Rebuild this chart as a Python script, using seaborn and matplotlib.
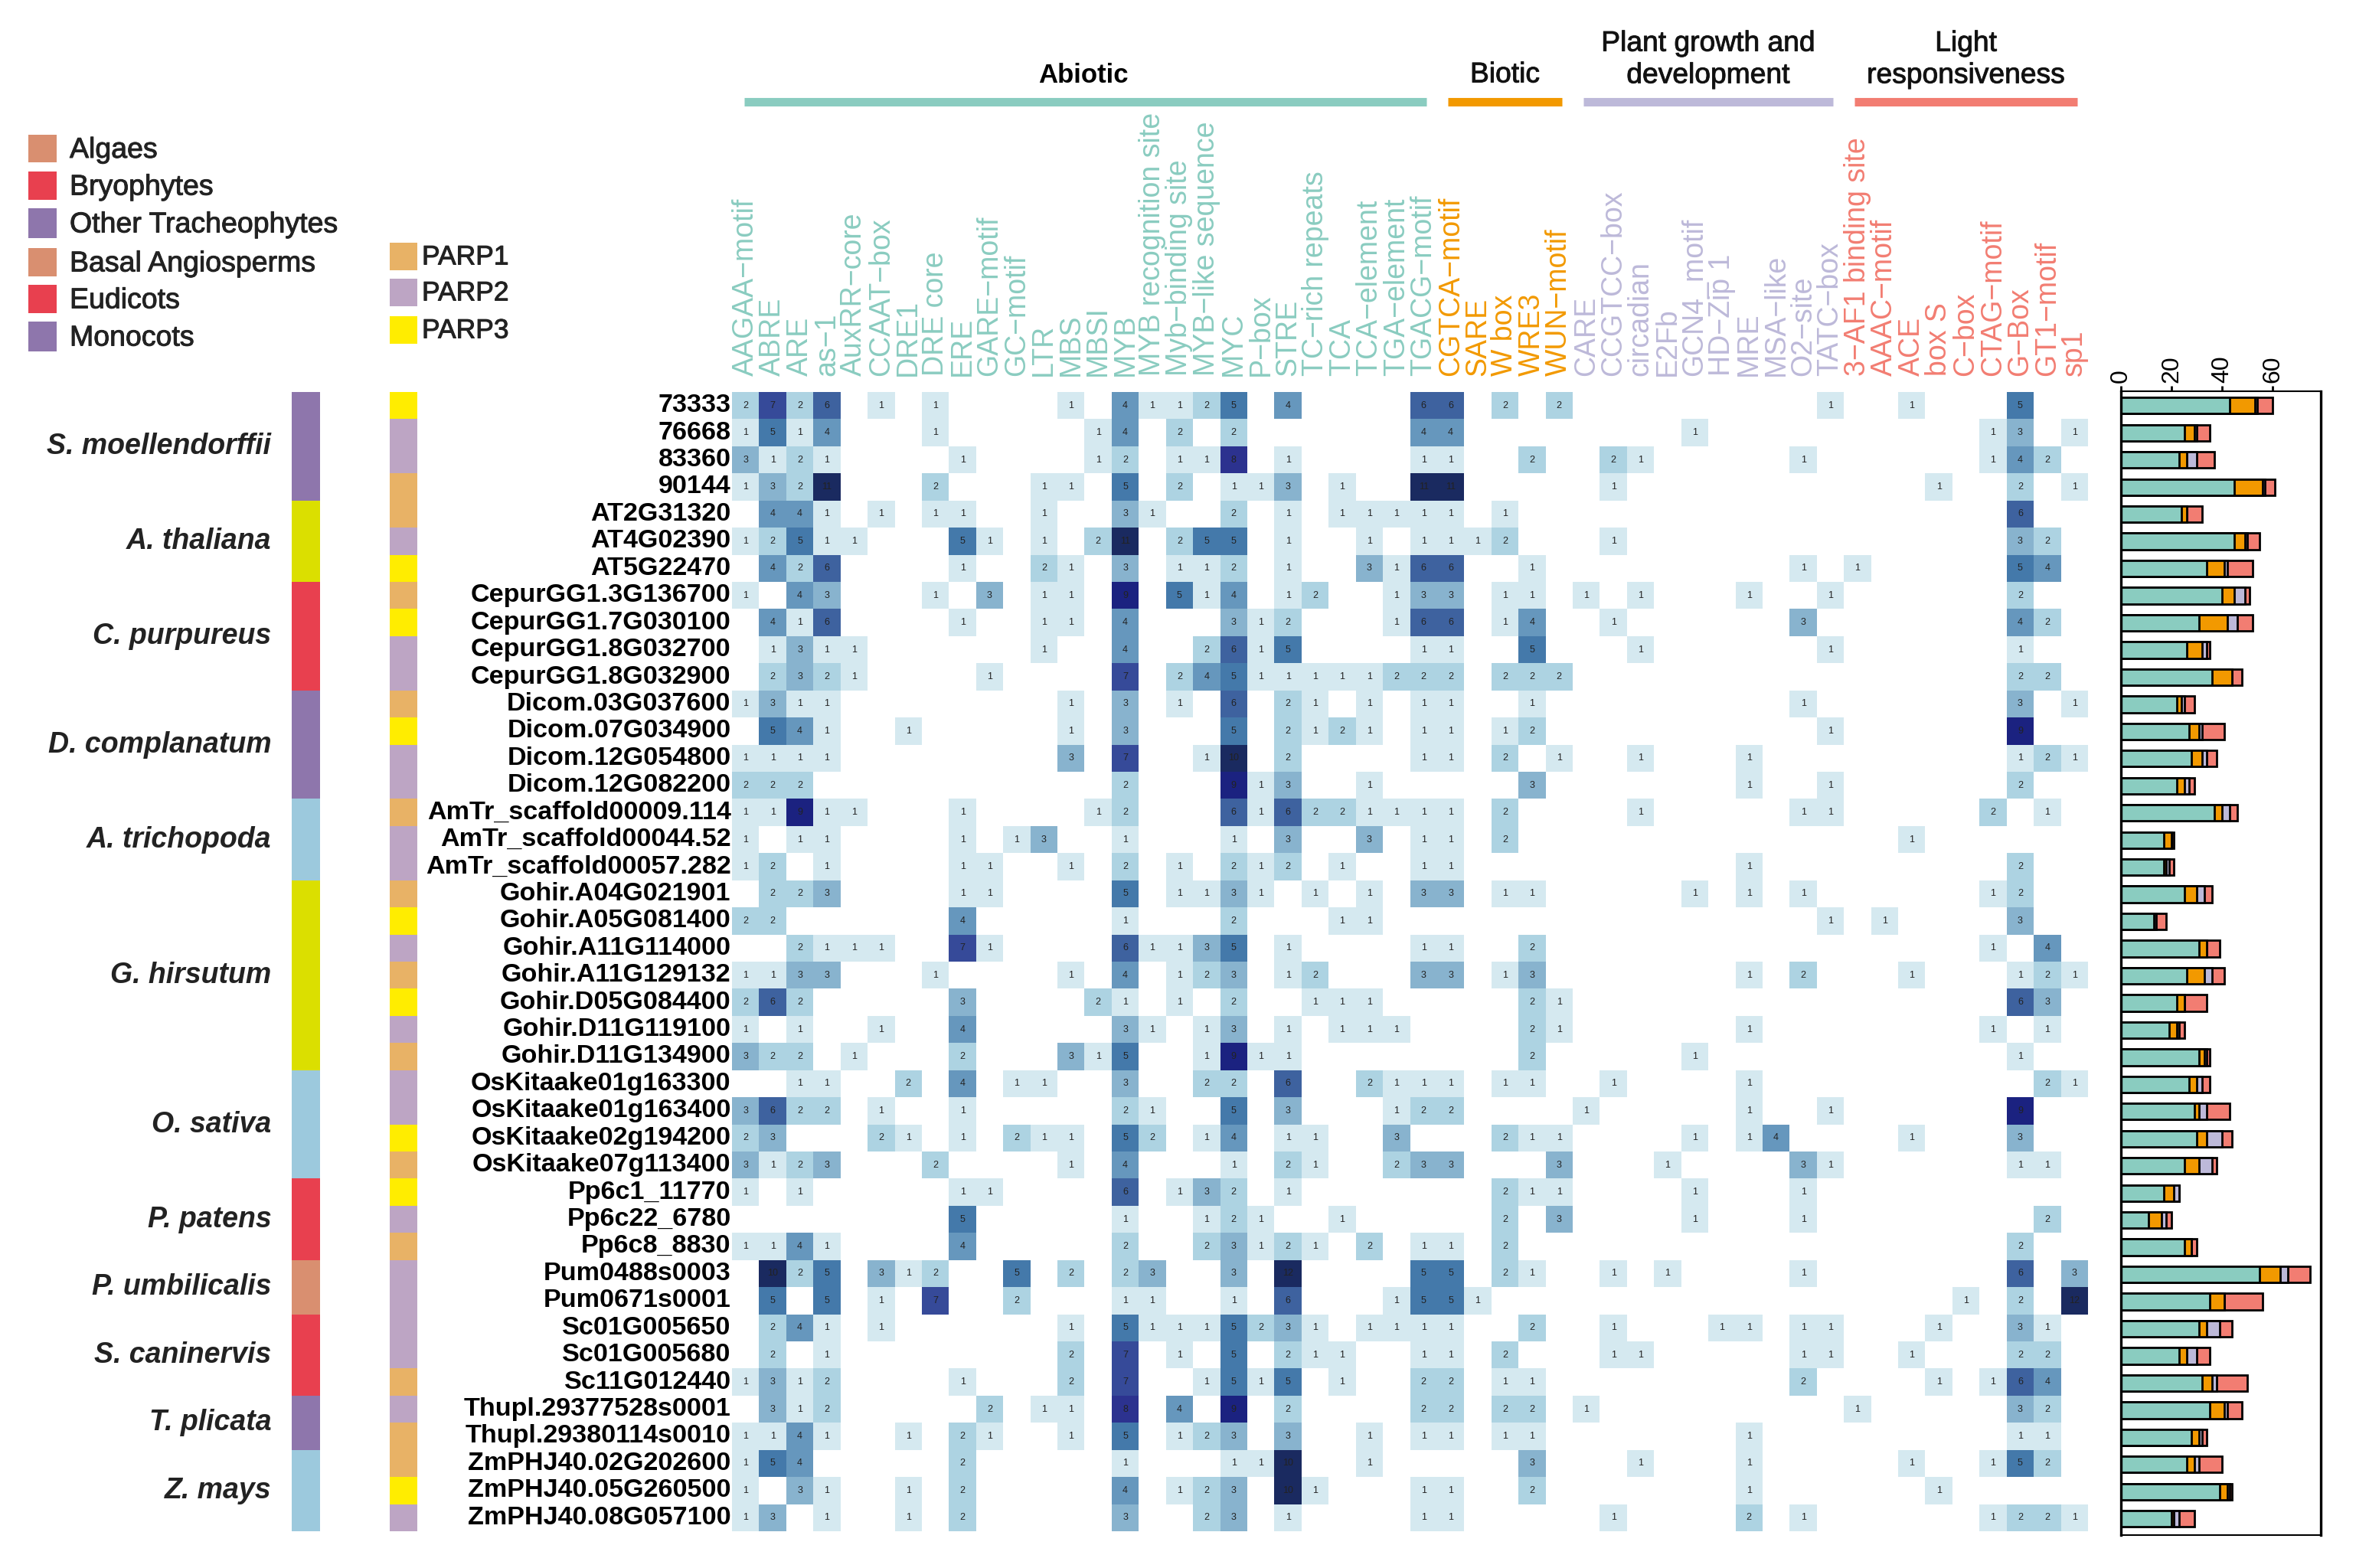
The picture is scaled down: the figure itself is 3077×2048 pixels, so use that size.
#!/usr/bin/env python3

import numpy as np
import pandas as pd
import seaborn as sns
import matplotlib
matplotlib.use('Agg')
import matplotlib.pyplot as plt
import matplotlib.patheffects as pe
from matplotlib.colors import ListedColormap
from matplotlib.patches import Rectangle

genes = ['73333', '76668', '83360', '90144', 'AT2G31320', 'AT4G02390', 'AT5G22470',
         'CepurGG1.3G136700', 'CepurGG1.7G030100', 'CepurGG1.8G032700', 'CepurGG1.8G032900',
         'Dicom.03G037600', 'Dicom.07G034900', 'Dicom.12G054800', 'Dicom.12G082200',
         'AmTr_scaffold00009.114', 'AmTr_scaffold00044.52', 'AmTr_scaffold00057.282',
         'Gohir.A04G021901', 'Gohir.A05G081400', 'Gohir.A11G114000', 'Gohir.A11G129132',
         'Gohir.D05G084400', 'Gohir.D11G119100', 'Gohir.D11G134900',
         'OsKitaake01g163300', 'OsKitaake01g163400', 'OsKitaake02g194200', 'OsKitaake07g113400',
         'Pp6c1_11770', 'Pp6c22_6780', 'Pp6c8_8830', 'Pum0488s0003', 'Pum0671s0001',
         'Sc01G005650', 'Sc01G005680', 'Sc11G012440', 'Thupl.29377528s0001', 'Thupl.29380114s0010',
         'ZmPHJ40.02G202600', 'ZmPHJ40.05G260500', 'ZmPHJ40.08G057100']

abiotic_motifs = ['AAGAA\u2212motif', 'ABRE', 'ARE', 'as\u22121', 'AuxRR\u2212core', 'CCAAT\u2212box', 'DRE1',
                  'DRE core', 'ERE', 'GARE\u2212motif', 'GC\u2212motif', 'LTR', 'MBS', 'MBSI', 'MYB',
                  'MYB recognition site', 'Myb\u2212binding site', 'MYB\u2212like sequence', 'MYC', 'P\u2212box',
                  'STRE', 'TC\u2212rich repeats', 'TCA', 'TCA\u2212element', 'TGA\u2212element', 'TGACG\u2212motif']
biotic_motifs = ['CGTCA\u2212motif', 'SARE', 'W box', 'WRE3', 'WUN\u2212motif']
growth_motifs = ['CARE', 'CCGTCC\u2212box', 'circadian', 'E2Fb', 'GCN4_motif', 'HD\u2212Zip 1', 'MRE',
                 'MSA\u2212like', 'O2\u2212site', 'TATC\u2212box']
light_motifs = ['3\u2212AF1 binding site', 'AAAC\u2212motif', 'ACE', 'box S', 'C\u2212box', 'CTAG\u2212motif',
                'G\u2212Box', 'GT1\u2212motif', 'sp1']

abiotic_counts = [
    [2, 7, 2, 6, 0, 1, 0, 1, 0, 0, 0, 0, 1, 0, 4, 1, 1, 2, 5, 0, 4, 0, 0, 0, 0, 6],
    [1, 5, 1, 4, 0, 0, 0, 1, 0, 0, 0, 0, 0, 1, 4, 0, 2, 0, 2, 0, 0, 0, 0, 0, 0, 4],
    [3, 1, 2, 1, 0, 0, 0, 0, 1, 0, 0, 0, 0, 1, 2, 0, 1, 1, 8, 0, 1, 0, 0, 0, 0, 1],
    [1, 3, 2, 11, 0, 0, 0, 2, 0, 0, 0, 1, 1, 0, 5, 0, 2, 0, 1, 1, 3, 0, 1, 0, 0, 11],
    [0, 4, 4, 1, 0, 1, 0, 1, 1, 0, 0, 1, 0, 0, 3, 1, 0, 0, 2, 0, 1, 0, 1, 1, 1, 1],
    [1, 2, 5, 1, 1, 0, 0, 0, 5, 1, 0, 1, 0, 2, 11, 0, 2, 5, 5, 0, 1, 0, 0, 1, 0, 1],
    [0, 4, 2, 6, 0, 0, 0, 0, 1, 0, 0, 2, 1, 0, 3, 0, 1, 1, 2, 0, 1, 0, 0, 3, 1, 6],
    [1, 0, 4, 3, 0, 0, 0, 1, 0, 3, 0, 1, 1, 0, 9, 0, 5, 1, 4, 0, 1, 2, 0, 0, 1, 3],
    [0, 4, 1, 6, 0, 0, 0, 0, 1, 0, 0, 1, 1, 0, 4, 0, 0, 0, 3, 1, 2, 0, 0, 0, 1, 6],
    [0, 1, 3, 1, 1, 0, 0, 0, 0, 0, 0, 1, 0, 0, 4, 0, 0, 2, 6, 1, 5, 0, 0, 0, 0, 1],
    [0, 2, 3, 2, 1, 0, 0, 0, 0, 1, 0, 0, 0, 0, 7, 0, 2, 4, 5, 1, 1, 1, 1, 1, 2, 2],
    [1, 3, 1, 1, 0, 0, 0, 0, 0, 0, 0, 0, 1, 0, 3, 0, 1, 0, 6, 0, 2, 1, 0, 1, 0, 1],
    [0, 5, 4, 1, 0, 0, 1, 0, 0, 0, 0, 0, 1, 0, 3, 0, 0, 0, 5, 0, 2, 1, 2, 1, 0, 1],
    [1, 1, 1, 1, 0, 0, 0, 0, 0, 0, 0, 0, 3, 0, 7, 0, 0, 1, 10, 0, 2, 0, 0, 0, 0, 1],
    [2, 2, 2, 0, 0, 0, 0, 0, 0, 0, 0, 0, 0, 0, 2, 0, 0, 0, 9, 1, 3, 0, 0, 1, 0, 0],
    [1, 1, 9, 1, 1, 0, 0, 0, 1, 0, 0, 0, 0, 1, 2, 0, 0, 0, 6, 1, 6, 2, 2, 1, 1, 1],
    [1, 0, 1, 1, 0, 0, 0, 0, 1, 0, 1, 3, 0, 0, 1, 0, 0, 0, 1, 0, 3, 0, 0, 3, 0, 1],
    [1, 2, 0, 1, 0, 0, 0, 0, 1, 1, 0, 0, 1, 0, 2, 0, 1, 0, 2, 1, 2, 0, 1, 0, 0, 1],
    [0, 2, 2, 3, 0, 0, 0, 0, 1, 1, 0, 0, 0, 0, 5, 0, 1, 1, 3, 1, 0, 1, 0, 1, 0, 3],
    [2, 2, 0, 0, 0, 0, 0, 0, 4, 0, 0, 0, 0, 0, 1, 0, 0, 0, 2, 0, 0, 0, 1, 1, 0, 0],
    [0, 0, 2, 1, 1, 1, 0, 0, 7, 1, 0, 0, 0, 0, 6, 1, 1, 3, 5, 0, 1, 0, 0, 0, 0, 1],
    [1, 1, 3, 3, 0, 0, 0, 1, 0, 0, 0, 0, 1, 0, 4, 0, 1, 2, 3, 0, 1, 2, 0, 0, 0, 3],
    [2, 6, 2, 0, 0, 0, 0, 0, 3, 0, 0, 0, 0, 2, 1, 0, 1, 0, 2, 0, 0, 1, 1, 1, 0, 0],
    [1, 0, 1, 0, 0, 1, 0, 0, 4, 0, 0, 0, 0, 0, 3, 1, 0, 1, 3, 0, 1, 0, 1, 1, 1, 0],
    [3, 2, 2, 0, 1, 0, 0, 0, 2, 0, 0, 0, 3, 1, 5, 0, 0, 1, 9, 1, 1, 0, 0, 0, 0, 0],
    [0, 0, 1, 1, 0, 0, 2, 0, 4, 0, 1, 1, 0, 0, 3, 0, 0, 2, 2, 0, 6, 0, 0, 2, 1, 1],
    [3, 6, 2, 2, 0, 1, 0, 0, 1, 0, 0, 0, 0, 0, 2, 1, 0, 0, 5, 0, 3, 0, 0, 0, 1, 2],
    [2, 3, 0, 0, 0, 2, 1, 0, 1, 0, 2, 1, 1, 0, 5, 2, 0, 1, 4, 0, 1, 1, 0, 0, 3, 0],
    [3, 1, 2, 3, 0, 0, 0, 2, 0, 0, 0, 0, 1, 0, 4, 0, 0, 0, 1, 0, 2, 1, 0, 0, 2, 3],
    [1, 0, 1, 0, 0, 0, 0, 0, 1, 1, 0, 0, 0, 0, 6, 0, 1, 3, 2, 0, 1, 0, 0, 0, 0, 0],
    [0, 0, 0, 0, 0, 0, 0, 0, 5, 0, 0, 0, 0, 0, 1, 0, 0, 1, 2, 1, 0, 0, 1, 0, 0, 0],
    [1, 1, 4, 1, 0, 0, 0, 0, 4, 0, 0, 0, 0, 0, 2, 0, 0, 2, 3, 1, 2, 1, 0, 2, 0, 1],
    [0, 10, 2, 5, 0, 3, 1, 2, 0, 0, 5, 0, 2, 0, 2, 3, 0, 0, 3, 0, 12, 0, 0, 0, 0, 5],
    [0, 5, 0, 5, 0, 1, 0, 7, 0, 0, 2, 0, 0, 0, 1, 1, 0, 0, 1, 0, 6, 0, 0, 0, 1, 5],
    [0, 2, 4, 1, 0, 1, 0, 0, 0, 0, 0, 0, 1, 0, 5, 1, 1, 1, 5, 2, 3, 1, 0, 1, 1, 1],
    [0, 2, 0, 1, 0, 0, 0, 0, 0, 0, 0, 0, 2, 0, 7, 0, 1, 0, 5, 0, 2, 1, 1, 0, 0, 1],
    [1, 3, 1, 2, 0, 0, 0, 0, 1, 0, 0, 0, 2, 0, 7, 0, 0, 1, 5, 1, 5, 0, 1, 0, 0, 2],
    [0, 3, 1, 2, 0, 0, 0, 0, 0, 2, 0, 1, 1, 0, 8, 0, 4, 0, 9, 0, 2, 0, 0, 0, 0, 2],
    [1, 1, 4, 1, 0, 0, 1, 0, 2, 1, 0, 0, 1, 0, 5, 0, 1, 2, 3, 0, 3, 0, 0, 1, 0, 1],
    [1, 5, 4, 0, 0, 0, 0, 0, 2, 0, 0, 0, 0, 0, 1, 0, 0, 0, 1, 1, 10, 0, 0, 1, 0, 0],
    [1, 0, 3, 1, 0, 0, 1, 0, 2, 0, 0, 0, 0, 0, 4, 0, 1, 2, 3, 0, 10, 1, 0, 0, 0, 1],
    [1, 3, 0, 1, 0, 0, 1, 0, 2, 0, 0, 0, 0, 0, 3, 0, 0, 2, 3, 0, 1, 0, 0, 0, 0, 1],
]
biotic_counts = [
    [6, 0, 2, 0, 2], [4, 0, 0, 0, 0], [1, 0, 0, 2, 0], [11, 0, 0, 0, 0], [1, 0, 1, 0, 0], [1, 1, 2, 0, 0],
    [6, 0, 0, 1, 0], [3, 0, 1, 1, 0], [6, 0, 1, 4, 0], [1, 0, 0, 5, 0], [2, 0, 2, 2, 2], [1, 0, 0, 1, 0],
    [1, 0, 1, 2, 0], [1, 0, 2, 0, 1], [0, 0, 0, 3, 0], [1, 0, 2, 0, 0], [1, 0, 2, 0, 0], [1, 0, 0, 0, 0],
    [3, 0, 1, 1, 0], [0, 0, 0, 0, 0], [1, 0, 0, 2, 0], [3, 0, 1, 3, 0], [0, 0, 0, 2, 1], [0, 0, 0, 2, 1],
    [0, 0, 0, 2, 0], [1, 0, 1, 1, 0], [2, 0, 0, 0, 0], [0, 0, 2, 1, 1], [3, 0, 0, 0, 3], [0, 0, 2, 1, 1],
    [0, 0, 2, 0, 3], [1, 0, 2, 0, 0], [5, 0, 2, 1, 0], [5, 1, 0, 0, 0], [1, 0, 0, 2, 0], [1, 0, 2, 0, 0],
    [2, 0, 1, 1, 0], [2, 0, 2, 2, 0], [1, 0, 1, 1, 0], [0, 0, 0, 3, 0], [1, 0, 0, 2, 0], [1, 0, 0, 0, 0],
]
growth_counts = [
    [0, 0, 0, 0, 0, 0, 0, 0, 0, 1], [0, 0, 0, 0, 1, 0, 0, 0, 0, 0], [0, 2, 1, 0, 0, 0, 0, 0, 1, 0],
    [0, 1, 0, 0, 0, 0, 0, 0, 0, 0], [0, 0, 0, 0, 0, 0, 0, 0, 0, 0], [0, 1, 0, 0, 0, 0, 0, 0, 0, 0],
    [0, 0, 0, 0, 0, 0, 0, 0, 1, 0], [1, 0, 1, 0, 0, 0, 1, 0, 0, 1], [0, 1, 0, 0, 0, 0, 0, 0, 3, 0],
    [0, 0, 1, 0, 0, 0, 0, 0, 0, 1], [0, 0, 0, 0, 0, 0, 0, 0, 0, 0], [0, 0, 0, 0, 0, 0, 0, 0, 1, 0],
    [0, 0, 0, 0, 0, 0, 0, 0, 0, 1], [0, 0, 1, 0, 0, 0, 1, 0, 0, 0], [0, 0, 0, 0, 0, 0, 1, 0, 0, 1],
    [0, 0, 1, 0, 0, 0, 0, 0, 1, 1], [0, 0, 0, 0, 0, 0, 0, 0, 0, 0], [0, 0, 0, 0, 0, 0, 1, 0, 0, 0],
    [0, 0, 0, 0, 1, 0, 1, 0, 1, 0], [0, 0, 0, 0, 0, 0, 0, 0, 0, 1], [0, 0, 0, 0, 0, 0, 0, 0, 0, 0],
    [0, 0, 0, 0, 0, 0, 1, 0, 2, 0], [0, 0, 0, 0, 0, 0, 0, 0, 0, 0], [0, 0, 0, 0, 0, 0, 1, 0, 0, 0],
    [0, 0, 0, 0, 1, 0, 0, 0, 0, 0], [0, 1, 0, 0, 0, 0, 1, 0, 0, 0], [1, 0, 0, 0, 0, 0, 1, 0, 0, 1],
    [0, 0, 0, 0, 1, 0, 1, 4, 0, 0], [0, 0, 0, 1, 0, 0, 0, 0, 3, 1], [0, 0, 0, 0, 1, 0, 0, 0, 1, 0],
    [0, 0, 0, 0, 1, 0, 0, 0, 1, 0], [0, 0, 0, 0, 0, 0, 0, 0, 0, 0], [0, 1, 0, 1, 0, 0, 0, 0, 1, 0],
    [0, 0, 0, 0, 0, 0, 0, 0, 0, 0], [0, 1, 0, 0, 0, 1, 1, 0, 1, 1], [0, 1, 1, 0, 0, 0, 0, 0, 1, 1],
    [0, 0, 0, 0, 0, 0, 0, 0, 2, 0], [1, 0, 0, 0, 0, 0, 0, 0, 0, 0], [0, 0, 0, 0, 0, 0, 1, 0, 0, 0],
    [0, 0, 1, 0, 0, 0, 1, 0, 0, 0], [0, 0, 0, 0, 0, 0, 1, 0, 0, 0], [0, 1, 0, 0, 0, 0, 2, 0, 1, 0],
]
light_counts = [
    [0, 0, 1, 0, 0, 0, 5, 0, 0], [0, 0, 0, 0, 0, 1, 3, 0, 1], [0, 0, 0, 0, 0, 1, 4, 2, 0],
    [0, 0, 0, 1, 0, 0, 2, 0, 1], [0, 0, 0, 0, 0, 0, 6, 0, 0], [0, 0, 0, 0, 0, 0, 3, 2, 0],
    [1, 0, 0, 0, 0, 0, 5, 4, 0], [0, 0, 0, 0, 0, 0, 2, 0, 0], [0, 0, 0, 0, 0, 0, 4, 2, 0],
    [0, 0, 0, 0, 0, 0, 1, 0, 0], [0, 0, 0, 0, 0, 0, 2, 2, 0], [0, 0, 0, 0, 0, 0, 3, 0, 1],
    [0, 0, 0, 0, 0, 0, 9, 0, 0], [0, 0, 0, 0, 0, 0, 1, 2, 1], [0, 0, 0, 0, 0, 0, 2, 0, 0],
    [0, 0, 0, 0, 0, 2, 0, 1, 0], [0, 0, 1, 0, 0, 0, 0, 0, 0], [0, 0, 0, 0, 0, 0, 2, 0, 0],
    [0, 0, 0, 0, 0, 1, 2, 0, 0], [0, 1, 0, 0, 0, 0, 3, 0, 0], [0, 0, 0, 0, 0, 1, 0, 4, 0],
    [0, 0, 1, 0, 0, 0, 1, 2, 1], [0, 0, 0, 0, 0, 0, 6, 3, 0], [0, 0, 0, 0, 0, 1, 0, 1, 0],
    [0, 0, 0, 0, 0, 0, 1, 0, 0], [0, 0, 0, 0, 0, 0, 0, 2, 1], [0, 0, 0, 0, 0, 0, 9, 0, 0],
    [0, 0, 1, 0, 0, 0, 3, 0, 0], [0, 0, 0, 0, 0, 0, 1, 1, 0], [0, 0, 0, 0, 0, 0, 0, 0, 0],
    [0, 0, 0, 0, 0, 0, 0, 2, 0], [0, 0, 0, 0, 0, 0, 2, 0, 0], [0, 0, 0, 0, 0, 0, 6, 0, 3],
    [0, 0, 0, 0, 1, 0, 2, 0, 12], [0, 0, 0, 1, 0, 0, 3, 1, 0], [0, 0, 1, 0, 0, 0, 2, 2, 0],
    [0, 0, 0, 1, 0, 1, 6, 4, 0], [1, 0, 0, 0, 0, 0, 3, 2, 0], [0, 0, 0, 0, 0, 0, 1, 1, 0],
    [0, 0, 1, 0, 0, 1, 5, 2, 0], [0, 0, 0, 1, 0, 0, 0, 0, 0], [0, 0, 0, 0, 0, 1, 2, 2, 1],
]

bar_abiotic = [43, 25, 23, 45, 24, 45, 34, 40, 31, 26, 36, 22, 27, 28, 22, 37, 17, 17, 25, 13, 31,
               26, 22, 19, 31, 27, 29, 30, 25, 17, 11, 25, 55, 35, 31, 23, 32, 35, 28, 26, 39, 20]
bar_biotic = [10, 4, 3, 11, 2, 4, 7, 5, 11, 6, 8, 2, 4, 4, 3, 3, 3, 1, 5, 0, 3,
              7, 3, 3, 2, 3, 2, 4, 6, 4, 5, 3, 8, 6, 3, 3, 4, 6, 3, 3, 3, 1]
bar_growth = [1, 1, 4, 1, 0, 1, 1, 4, 4, 2, 0, 1, 1, 2, 2, 3, 0, 1, 3, 1, 0,
              3, 0, 1, 1, 2, 3, 6, 5, 2, 2, 0, 3, 0, 5, 4, 2, 1, 1, 2, 1, 2]
bar_light = [6, 5, 7, 4, 6, 5, 10, 2, 6, 1, 4, 4, 9, 4, 2, 3, 1, 2, 3, 4, 5,
             5, 9, 2, 1, 3, 9, 4, 2, 0, 2, 2, 9, 15, 5, 5, 12, 6, 2, 9, 1, 6]

species_names = ['S. moellendorffii', 'A. thaliana', 'C. purpureus', 'D. complanatum', 'A. trichopoda',
                 'G. hirsutum', 'O. sativa', 'P. patens', 'P. umbilicalis', 'S. caninervis', 'T. plicata', 'Z. mays']
species_sizes = [4, 3, 4, 4, 3, 7, 4, 3, 2, 3, 2, 3]
species_colors = ['#8E76AC', '#DBDF00', '#E8404F', '#8E76AC', '#9CC9DD', '#DBDF00',
                  '#9CC9DD', '#E8404F', '#D98F70', '#E8404F', '#8E76AC', '#9CC9DD']

parp_types = ['PARP3', 'PARP2', 'PARP2', 'PARP1', 'PARP1', 'PARP2', 'PARP3', 'PARP1', 'PARP3', 'PARP2', 'PARP2',
              'PARP1', 'PARP3', 'PARP2', 'PARP2', 'PARP1', 'PARP2', 'PARP2', 'PARP1', 'PARP3', 'PARP2',
              'PARP1', 'PARP3', 'PARP2', 'PARP1', 'PARP2', 'PARP2', 'PARP3', 'PARP1', 'PARP3', 'PARP2',
              'PARP1', 'PARP2', 'PARP2', 'PARP2', 'PARP2', 'PARP1', 'PARP2', 'PARP1', 'PARP1', 'PARP3', 'PARP2']
parp_names = ['PARP1', 'PARP2', 'PARP3']
parp_colors = ['#E8B266', '#BDA5C4', '#FFED00']

clade_names = ['Algaes', 'Bryophytes', 'Other Tracheophytes', 'Basal Angiosperms', 'Eudicots', 'Monocots']
clade_colors = ['#D98F70', '#E8404F', '#8E76AC', '#D98F70', '#E8404F', '#8E76AC']

group_names = ['Abiotic', 'Biotic', 'Plant growth and\ndevelopment', 'Light\nresponsiveness']
group_colors = ['#8ACCC0', '#F29900', '#BDB9D9', '#F27D72']
count_colors = ['#FFFFFF', '#D5E9F0', '#ADD3E2', '#88B3CE', '#6697BD', '#4479AA', '#3E629F',
                '#364A99', '#2C328F', '#1B2280', '#1A2A60', '#1A2A60', '#1A2A60']

W, H = 3077, 2048


def place(fig, left, top, right, bottom):
    # axes from pixel edges of the 3077x2048 canvas
    return fig.add_axes([left / W, 1 - bottom / H, (right - left) / W, (bottom - top) / H])


sns.set_theme(style='white')
plt.rcParams['font.family'] = ['Liberation Sans', 'DejaVu Sans']

fig = plt.figure(figsize=(W / 100, H / 100), dpi=100, facecolor='white')
thicker = [pe.withStroke(linewidth=0.7, foreground='#222222')]

motifs = abiotic_motifs + biotic_motifs + growth_motifs + light_motifs
counts = pd.DataFrame(np.hstack([abiotic_counts, biotic_counts, growth_counts, light_counts]),
                      index=genes, columns=motifs)
cell_text = counts.astype(str).where(counts > 0, '')

# main heatmap
ax = place(fig, 956, 512, 2727, 2000)
sns.heatmap(counts, ax=ax, cmap=ListedColormap(count_colors), vmin=-0.5, vmax=12.5, cbar=False,
            annot=cell_text, fmt='', annot_kws={'size': 9, 'color': '#222222'},
            xticklabels=True, yticklabels=True)
ax.xaxis.tick_top()
ax.tick_params(axis='x', length=0, pad=15, labelrotation=90, labelsize=27)
ax.tick_params(axis='y', length=0, pad=1, labelrotation=0, labelsize=24.6)
for label in ax.get_yticklabels():
    label.set_fontweight('bold')
    label.set_color('black')
sizes = [len(abiotic_motifs), len(biotic_motifs), len(growth_motifs), len(light_motifs)]
label_colors = np.repeat(group_colors, sizes)
for label, colour in zip(ax.get_xticklabels(), label_colors):
    label.set_color(colour)
ax.set_xlabel('')
ax.set_ylabel('')

# group bars above the motif names, in column units
ax_head = place(fig, 956, 0, 2727, 160)
ax_head.set_xlim(0, len(motifs))
ax_head.set_ylim(160, 0)
ax_head.axis('off')
group_spans = [(0.44, 25.6), (26.4, 30.6), (31.4, 40.6), (41.4, 49.6)]
for (start, end), colour in zip(group_spans, group_colors):
    ax_head.hlines(133, start, end, color=colour, lw=8)
ax_head.text(12.95, 98, group_names[0], ha='center', va='center', fontsize=25, fontweight='bold', color='black')
head_text = [(28.5, 98, group_names[1]), (36.0, 78, group_names[2]), (45.5, 78, group_names[3])]
for x, y, name in head_text:
    ax_head.text(x, y, name, ha='center', va='center', fontsize=26.8, color='#111111',
                 linespacing=1.25, path_effects=thicker)

# species strip
species_index = np.repeat(np.arange(len(species_names)), species_sizes)
ax_sp = place(fig, 381, 512, 418, 2000)
sns.heatmap(pd.DataFrame({'species': species_index}), ax=ax_sp, cmap=ListedColormap(species_colors),
            vmin=-0.5, vmax=len(species_names) - 0.5, cbar=False, xticklabels=False, yticklabels=False)
ax_sp.set_ylabel('')
start = 0
for name, size in zip(species_names, species_sizes):
    ax_sp.text(-0.72, start + size / 2, name, ha='right', va='center', fontsize=27,
               style='italic', fontweight='bold', color='#222222')
    start += size

# PARP strip
parp_index = [parp_names.index(p) for p in parp_types]
ax_parp = place(fig, 509, 512, 545, 2000)
sns.heatmap(pd.DataFrame({'parp': parp_index}), ax=ax_parp, cmap=ListedColormap(parp_colors),
            vmin=-0.5, vmax=2.5, cbar=False, xticklabels=False, yticklabels=False)
ax_parp.set_ylabel('')

# legends
ax_leg = place(fig, 0, 0, W, 500)
ax_leg.set_xlim(0, W)
ax_leg.set_ylim(500, 0)
ax_leg.axis('off')
clade_tops = [176, 224, 272, 324, 372, 420]
clade_bottoms = [212, 261, 311, 361, 409, 459]
for name, colour, y0, y1 in zip(clade_names, clade_colors, clade_tops, clade_bottoms):
    ax_leg.add_patch(Rectangle((37, y0), 37, y1 - y0, facecolor=colour, edgecolor='none'))
    ax_leg.text(91, (y0 + y1) / 2 + 2, name, va='center', ha='left', fontsize=27, color='#222222',
                path_effects=thicker)
parp_tops = [317, 364, 413]
parp_bottoms = [353, 400, 449]
for name, colour, y0, y1 in zip(parp_names, parp_colors, parp_tops, parp_bottoms):
    ax_leg.add_patch(Rectangle((509, y0), 36, y1 - y0, facecolor=colour, edgecolor='none'))
    ax_leg.text(551, (y0 + y1) / 2 + 1, name, va='center', ha='left', fontsize=25.5, color='#222222',
                path_effects=thicker)

# stacked bars, drawn longest first so the shorter ones sit on top
ax_bar = place(fig, 2770, 511, 3031, 2005)
stack = pd.DataFrame({'gene': genes, 'Abiotic': bar_abiotic, 'Biotic': bar_biotic,
                      'Growth': bar_growth, 'Light': bar_light})
cum = stack[['Abiotic', 'Biotic', 'Growth', 'Light']].cumsum(axis=1)
cum['gene'] = genes
for col, colour in zip(['Light', 'Growth', 'Biotic', 'Abiotic'], group_colors[::-1]):
    sns.barplot(data=cum, x=col, y='gene', ax=ax_bar, color=colour, saturation=1, width=0.6,
                edgecolor='black', linewidth=2.0, orient='h')
ax_bar.set_xlim(0, 261 / 3.3)
ax_bar.set_ylim(41.6, -0.53)
ax_bar.set_xlabel('')
ax_bar.set_ylabel('')
ax_bar.set_yticks([])
ax_bar.xaxis.tick_top()
ax_bar.set_xticks([0, 20, 40, 60])
ax_bar.tick_params(axis='x', top=True, length=5, width=2, pad=3, labelsize=23, labelrotation=90, colors='black')
for name, spine in ax_bar.spines.items():
    spine.set_visible(True)
    spine.set_color('black')
    spine.set_linewidth(2.4 if name in ('left', 'right') else 1.5)

fig.savefig('out.png', dpi=100, facecolor='white')
